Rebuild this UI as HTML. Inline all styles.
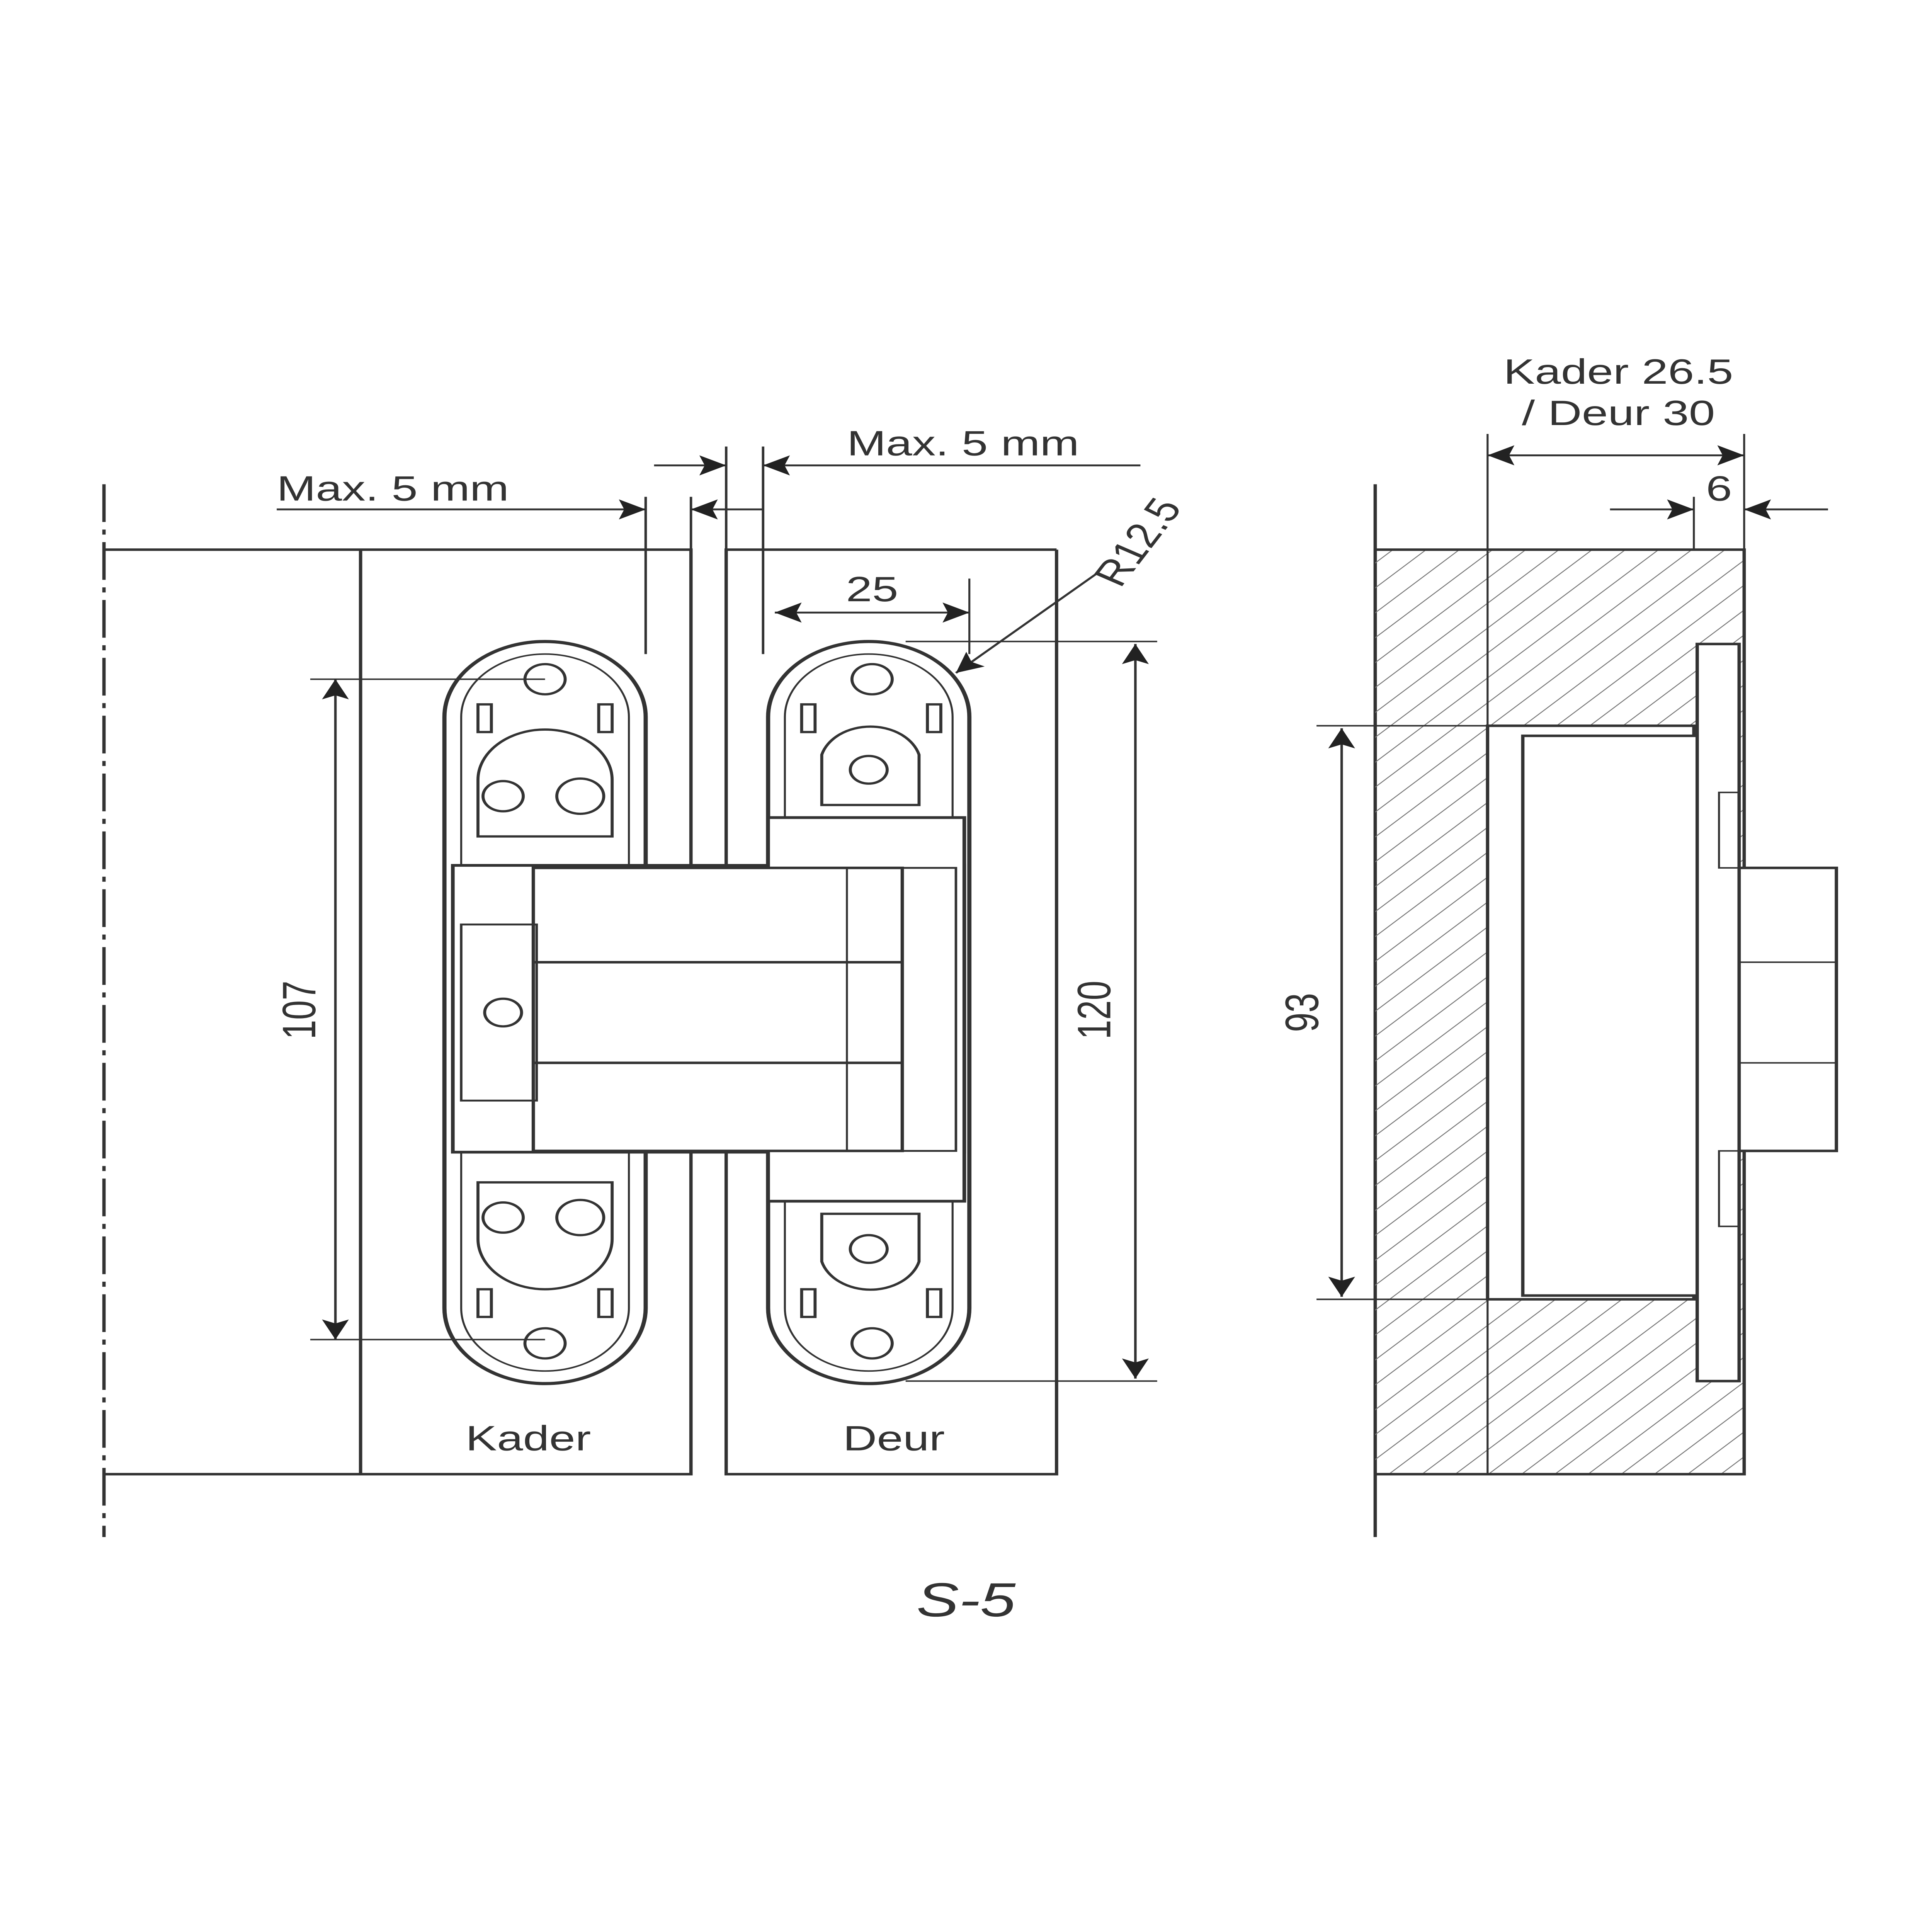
<!DOCTYPE html>
<html><head><meta charset="utf-8"><style>
html,body{margin:0;padding:0;background:#fff;width:100%;height:100%;overflow:hidden}
svg{display:block;position:absolute;left:0;top:0;width:100vw;height:100vh}
text{font-family:"Liberation Sans",sans-serif;fill:#333}
</style></head><body>
<svg viewBox="0 0 1152 1536" preserveAspectRatio="none" xmlns="http://www.w3.org/2000/svg">
<defs>
<pattern id="h" width="14" height="14" patternUnits="userSpaceOnUse" patternTransform="rotate(45)">
<line x1="0" y1="0" x2="0" y2="14" stroke="#777" stroke-width="1.3"/>
</pattern>
<marker id="A" viewBox="0 0 10 10" refX="10" refY="5" markerWidth="28" markerHeight="16" orient="auto-start-reverse" markerUnits="userSpaceOnUse">
<path d="M0,0 L10,5 L0,10 L2,5 z" fill="#222"/>
</marker>
</defs>
<g stroke="#333" stroke-width="2" fill="none">
<line x1="62" y1="385" x2="62" y2="1222" stroke-dasharray="30 6 4 6"/>
<path d="M62 437 H412 V1172 H62"/>
<path d="M630 437 H433 V1172 H630 V437"/>
<line x1="215" y1="437" x2="215" y2="1172"/>
<line x1="385" y1="395" x2="385" y2="520" stroke-width="1.5"/>
<line x1="455" y1="355" x2="455" y2="520" stroke-width="1.5"/>
<line x1="433" y1="355" x2="433" y2="437" stroke-width="1.5"/>
<line x1="412" y1="395" x2="412" y2="437" stroke-width="1.5"/>
<line x1="165" y1="405" x2="385" y2="405" stroke-width="1.5" marker-end="url(#A)"/>
<line x1="455" y1="405" x2="412" y2="405" stroke-width="1.5" marker-end="url(#A)"/>
<line x1="390" y1="370" x2="433" y2="370" stroke-width="1.5" marker-end="url(#A)"/>
<line x1="680" y1="370" x2="455" y2="370" stroke-width="1.5" marker-end="url(#A)"/>
<rect x="265" y="510" width="120" height="590" rx="60" stroke-width="2.5"/>
<rect x="458" y="510" width="120" height="590" rx="60" stroke-width="2.5"/>
<rect x="275" y="520" width="100" height="570" rx="50" stroke-width="1.2"/>
<rect x="468" y="520" width="100" height="570" rx="50" stroke-width="1.2"/>
<rect x="270" y="688" width="305" height="228" fill="#fff" stroke-width="2.2"/>
<rect x="458" y="650" width="117" height="305" fill="#fff" stroke-width="2.2"/>
<rect x="318" y="690" width="220" height="225" fill="#fff" stroke-width="2"/>
<line x1="318" y1="765" x2="538" y2="765"/>
<line x1="318" y1="845" x2="538" y2="845"/>
<rect x="538" y="690" width="32" height="225" stroke-width="1.5"/>
<rect x="275" y="735" width="45" height="140" stroke-width="1.5"/>
<line x1="505" y1="690" x2="505" y2="915" stroke-width="1.2"/>
<g stroke-width="1.8">
<circle cx="325" cy="540" r="12"/><circle cx="325" cy="1068" r="12"/>
<circle cx="520" cy="540" r="12"/><circle cx="520" cy="1068" r="12"/>
<circle cx="300" cy="633" r="12"/><circle cx="346" cy="633" r="14"/>
<circle cx="300" cy="968" r="12"/><circle cx="346" cy="968" r="14"/>
<circle cx="300" cy="805" r="11"/>
<circle cx="518" cy="612" r="11"/><circle cx="518" cy="993" r="11"/>
<path d="M285 620 a40 40 0 0 1 80 0 V665 H285 z"/>
<path d="M285 985 a40 40 0 0 0 80 0 V940 H285 z"/>
<path d="M490 600 a30 30 0 0 1 58 0 V640 H490 z"/>
<path d="M490 1003 a30 30 0 0 0 58 0 V965 H490 z"/>
<rect x="285" y="560" width="8" height="22"/><rect x="357" y="560" width="8" height="22"/>
<rect x="285" y="1025" width="8" height="22"/><rect x="357" y="1025" width="8" height="22"/>
<rect x="478" y="560" width="8" height="22"/><rect x="553" y="560" width="8" height="22"/>
<rect x="478" y="1025" width="8" height="22"/><rect x="553" y="1025" width="8" height="22"/>
</g>
<line x1="185" y1="540" x2="325" y2="540" stroke-width="1.2"/>
<line x1="185" y1="1065" x2="325" y2="1065" stroke-width="1.2"/>
<line x1="200" y1="540" x2="200" y2="1065" stroke-width="1.5" marker-start="url(#A)" marker-end="url(#A)"/>
<line x1="540" y1="510" x2="690" y2="510" stroke-width="1.2"/>
<line x1="540" y1="1098" x2="690" y2="1098" stroke-width="1.2"/>
<line x1="677" y1="512" x2="677" y2="1096" stroke-width="1.5" marker-start="url(#A)" marker-end="url(#A)"/>
<line x1="462" y1="487" x2="578" y2="487" stroke-width="1.5" marker-start="url(#A)" marker-end="url(#A)"/>
<line x1="578" y1="460" x2="578" y2="520" stroke-width="1.2"/>
<line x1="655" y1="455" x2="570" y2="535" stroke-width="1.5" marker-end="url(#A)"/>
<line x1="820" y1="385" x2="820" y2="1222" stroke-width="2"/>
<rect x="820" y="437" width="220" height="735" fill="url(#h)" stroke="none"/>
<path d="M820 437 H1040 V1172 H820"/>
<rect x="887" y="577" width="123" height="456" fill="#fff"/>
<line x1="887" y1="437" x2="887" y2="1172" stroke-width="1.2"/>
<rect x="908" y="585" width="104" height="445" fill="#fff"/>
<rect x="1012" y="512" width="25" height="586" fill="#fff"/>
<rect x="1037" y="690" width="58" height="225" fill="#fff"/>
<line x1="1037" y1="765" x2="1095" y2="765" stroke-width="1.2"/>
<line x1="1037" y1="845" x2="1095" y2="845" stroke-width="1.2"/>
<rect x="1025" y="630" width="12" height="60" stroke-width="1.2"/>
<rect x="1025" y="915" width="12" height="60" stroke-width="1.2"/>
<line x1="887" y1="345" x2="887" y2="437" stroke-width="1.2"/>
<line x1="1040" y1="345" x2="1040" y2="437" stroke-width="1.2"/>
<line x1="1010" y1="395" x2="1010" y2="437" stroke-width="1.2"/>
<line x1="887" y1="362" x2="1040" y2="362" stroke-width="1.5" marker-start="url(#A)" marker-end="url(#A)"/>
<line x1="960" y1="405" x2="1010" y2="405" stroke-width="1.5" marker-end="url(#A)"/>
<line x1="1090" y1="405" x2="1040" y2="405" stroke-width="1.5" marker-end="url(#A)"/>
<line x1="785" y1="577" x2="887" y2="577" stroke-width="1.2"/>
<line x1="785" y1="1033" x2="887" y2="1033" stroke-width="1.2"/>
<line x1="800" y1="579" x2="800" y2="1031" stroke-width="1.5" marker-start="url(#A)" marker-end="url(#A)"/>
</g>
<g font-size="28">
<text x="165" y="398">Max. 5 mm</text>
<text x="505" y="362">Max. 5 mm</text>
<text x="520" y="478" text-anchor="middle">25</text>
<text transform="translate(668,468) rotate(-60)">R12.5</text>
<text transform="translate(188,803) rotate(-90)" text-anchor="middle">107</text>
<text transform="translate(662,803) rotate(-90)" text-anchor="middle">120</text>
<text transform="translate(786,805) rotate(-90)" text-anchor="middle">93</text>
<text x="315" y="1153" text-anchor="middle">Kader</text>
<text x="533" y="1153" text-anchor="middle">Deur</text>
<text x="965" y="305" text-anchor="middle">Kader 26.5</text>
<text x="965" y="338" text-anchor="middle">/ Deur 30</text>
<text x="1025" y="398" text-anchor="middle">6</text>
<text x="576" y="1285" text-anchor="middle" font-size="38" font-style="italic">S-5</text>
</g>
</svg>
</body></html>
